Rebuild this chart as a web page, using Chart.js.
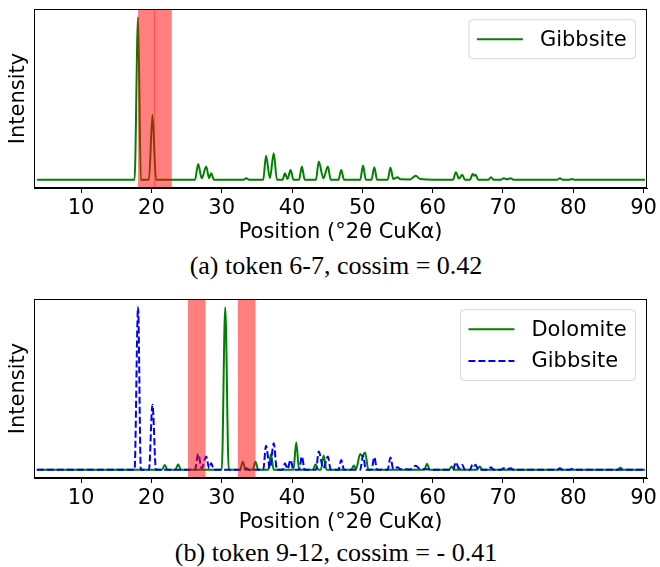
<!DOCTYPE html>
<html>
<head>
<meta charset="utf-8">
<script src="https://cdn.jsdelivr.net/npm/chart.js@4.4.1/dist/chart.umd.min.js"></script>
<style>
  body { margin: 0; width: 660px; height: 567px; background: #fff; position: relative; overflow: hidden; }
  .panel { position: absolute; left: 0; width: 660px; height: 245px; }
  .cap { position: absolute; left: 6px; width: 660px; text-align: center; font-family: "Liberation Serif", serif; font-size: 26px; line-height: 30px; color: #000; }
</style>
</head>
<body>
<div class="panel" style="top:0"><canvas id="chartA" width="660" height="245"></canvas></div>
<div class="cap" style="top:251px">(a) token 6-7, cossim = 0.42</div>
<div class="panel" style="top:290px"><canvas id="chartB" width="660" height="245"></canvas></div>
<div class="cap" style="top:538px">(b) token 9-12, cossim = - 0.41</div>
<script>
// axis limits and ticks
const xMin = 3.3, xMax = 90.5;
const yMin = -0.05, yMax = 1.05;
const xTicks = [10, 20, 30, 40, 50, 60, 70, 80, 90];

// Gibbsite pattern (normalised intensity)
const gibbsiteX = [3.7, 17.6, 18.1, 18.5, 19.65, 20.15, 20.65, 26.2, 26.65, 27.15, 27.8, 28.2, 28.5, 28.9,
  33.1, 33.5, 33.9, 35.9, 36.3, 36.85, 37.4, 37.85, 38.65, 39.0, 39.35, 39.8, 40.2, 41.0, 41.4, 41.8,
  43.4, 43.8, 44.45, 45.1, 45.5, 46.6, 47.0, 47.4, 49.7, 50.1, 50.5, 51.3, 51.7, 52.1, 53.6, 54.0,
  54.4, 55.0, 55.4, 56.8, 57.6, 58.2, 62.9, 63.3, 63.75, 64.2, 64.6, 65.3, 65.7, 65.9, 66.1, 66.5,
  67.9, 68.3, 68.7, 69.7, 70.1, 70.6, 71.1, 71.5, 77.7, 78.1, 78.5, 79.4, 79.8, 80.2, 90.2];
const gibbsiteY = [0, 0, 1.0, 0, 0, 0.40, 0, 0, 0.098, 0.01, 0.082, 0.01, 0.041, 0,
  0, 0.01, 0, 0, 0.148, 0.01, 0.164, 0, 0, 0.041, 0.005, 0.061, 0, 0, 0.082, 0,
  0, 0.113, 0.01, 0.082, 0, 0, 0.061, 0, 0, 0.088, 0, 0, 0.078, 0, 0, 0.076,
  0.005, 0.016, 0.004, 0.003, 0.025, 0.006, 0, 0.047, 0.008, 0.031, 0, 0, 0.037, 0.025, 0.031, 0,
  0, 0.016, 0, 0, 0.01, 0.004, 0.01, 0, 0, 0.01, 0, 0, 0.006, 0, 0];

// Dolomite pattern
const dolomiteX = [3.7, 21.5, 21.9, 22.3, 23.4, 23.8, 24.2, 30.0, 30.5, 31.0, 32.6, 33.0, 33.4,
  34.4, 34.8, 35.2, 36.6, 37.0, 37.4, 40.2, 40.6, 41.0, 42.95, 43.35, 43.75, 44.1, 44.5, 44.9,
  48.4, 48.8, 49.1, 49.7, 50.0, 50.4, 50.85, 58.8, 59.2, 59.6, 62.3, 62.7, 63.1, 66.3, 66.7, 67.1,
  86.3, 86.7, 87.1, 90.2];
const dolomiteY = [0, 0, 0.03, 0, 0, 0.035, 0, 0, 1.0, 0, 0, 0.05, 0,
  0, 0.05, 0, 0, 0.096, 0, 0, 0.17, 0, 0, 0.035, 0, 0, 0.088, 0,
  0, 0.027, 0.005, 0.098, 0.085, 0.107, 0, 0, 0.037, 0, 0, 0.02, 0, 0, 0.02, 0,
  0, 0.014, 0, 0];

// highlighted token regions (°2θ)
const bandsA = [[18.1, 20.5], [20.4, 22.9]];
const bandsB = [[25.2, 27.7], [32.3, 34.8]];

const pts = (xs, ys) => xs.map((x, i) => ({ x: x, y: ys[i] }));
const FONT = 'DejaVu Sans';

const bandPlugin = {
  id: 'bands',
  afterDatasetsDraw(chart, args, opts) {
    const { ctx, chartArea: a, scales: { x } } = chart;
    ctx.save();
    ctx.beginPath();
    ctx.rect(a.left, a.top, a.width, a.height);
    ctx.clip();
    ctx.fillStyle = 'rgba(255, 0, 0, 0.5)';
    (opts.list || []).forEach(b => {
      const x0 = x.getPixelForValue(b[0]);
      const x1 = x.getPixelForValue(b[1]);
      ctx.fillRect(x0, a.top, x1 - x0, a.height);
    });
    ctx.restore();
  }
};

const framePlugin = {
  id: 'frame',
  afterDraw(chart) {
    const { ctx, chartArea: a } = chart;
    ctx.save();
    ctx.strokeStyle = '#000';
    ctx.lineWidth = 1;
    ctx.strokeRect(Math.round(a.left) + 0.5, Math.round(a.top) + 0.5,
      Math.round(a.width) - 1, Math.round(a.height) - 1);
    ctx.restore();
  }
};

const boxLegend = {
  id: 'boxLegend',
  afterDraw(chart) {
    const { ctx, chartArea: a } = chart;
    const items = chart.data.datasets;
    ctx.save();
    ctx.font = '21px "' + FONT + '"';
    const textW = Math.max(...items.map(d => ctx.measureText(d.label).width));
    const rowH = 31.7;
    const w = 8 + 46 + 17 + textW + 9;
    const h = rowH * items.length + 7.3;
    const x0 = a.right - 11.5 - w;
    const y0 = a.top + 10.7;
    ctx.beginPath();
    ctx.roundRect(x0, y0, w, h, 4);
    ctx.fillStyle = 'rgba(255, 255, 255, 0.8)';
    ctx.fill();
    ctx.strokeStyle = '#d6d6d6';
    ctx.lineWidth = 1;
    ctx.stroke();
    items.forEach((d, i) => {
      const cy = y0 + 3.65 + rowH * (i + 0.5);
      ctx.beginPath();
      ctx.setLineDash(d.borderDash || []);
      ctx.strokeStyle = d.borderColor;
      ctx.lineWidth = d.borderWidth;
      ctx.moveTo(x0 + 8, cy);
      ctx.lineTo(x0 + 54, cy);
      ctx.stroke();
      ctx.setLineDash([]);
      ctx.fillStyle = '#000';
      ctx.textBaseline = 'middle';
      ctx.fillText(d.label, x0 + 71, cy + 1);
    });
    ctx.restore();
  }
};

function makeChart(id, datasets, bands) {
  return new Chart(document.getElementById(id), {
    type: 'line',
    data: { datasets: datasets },
    options: {
      responsive: false,
      animation: false,
      layout: { padding: { top: 9, right: 12, left: 0, bottom: 0 } },
      elements: { point: { radius: 0 }, line: { cubicInterpolationMode: 'monotone' } },
      plugins: { legend: { display: false }, tooltip: { enabled: false }, bands: { list: bands } },
      scales: {
        x: {
          type: 'linear', min: xMin, max: xMax,
          afterBuildTicks: s => { s.ticks = xTicks.map(v => ({ value: v })); },
          afterFit: s => { s.height = 57; },
          grid: { drawOnChartArea: false, drawTicks: true, tickLength: 5, color: '#000' },
          border: { color: '#000' },
          ticks: { color: '#000', font: { family: FONT, size: 21 }, padding: 3, maxRotation: 0 },
          title: { display: true, text: 'Position (°2θ CuKα)', color: '#000',
            font: { family: FONT, size: 21 }, padding: { top: 0, bottom: 0 } }
        },
        y: {
          min: yMin, max: yMax,
          afterFit: s => { s.width = 34; },
          grid: { display: false },
          border: { color: '#000' },
          ticks: { display: false },
          title: { display: true, text: 'Intensity', color: '#000',
            font: { family: FONT, size: 21 }, padding: { top: 6, bottom: 0 } }
        }
      }
    },
    plugins: [bandPlugin, framePlugin, boxLegend]
  });
}

makeChart('chartA', [
  { label: 'Gibbsite', data: pts(gibbsiteX, gibbsiteY), borderColor: '#008000', borderWidth: 2, fill: false }
], bandsA);

makeChart('chartB', [
  { label: 'Dolomite', data: pts(dolomiteX, dolomiteY), borderColor: '#008000', borderWidth: 2, fill: false, order: 1 },
  { label: 'Gibbsite', data: pts(gibbsiteX, gibbsiteY), borderColor: '#0000ff', borderWidth: 2, borderDash: [7, 3], fill: false, order: 0 }
], bandsB);
</script>
</body>
</html>
